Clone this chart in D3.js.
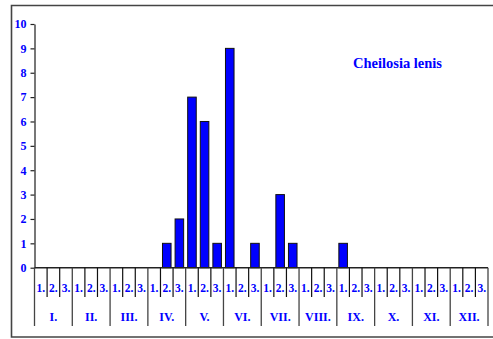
<!DOCTYPE html>
<html><head><meta charset="utf-8">
<script src="https://cdn.jsdelivr.net/npm/d3@7"></script>
<style>body{margin:0;background:#fff}svg{display:block}</style>
</head><body>
<script>
const months = ["I.","II.","III.","IV.","V.","VI.","VII.","VIII.","IX.","X.","XI.","XII."];
const decadeLabels = ["1.","2.","3."];
const counts = [0,0,0, 0,0,0, 0,0,0, 0,1,2, 7,6,1, 9,0,1, 0,3,1, 0,0,0, 1,0,0, 0,0,0, 0,0,0, 0,0,0];
const yTicks = [0,1,2,3,4,5,6,7,8,9,10];
const title = "Cheilosia lenis";

const W = 493, H = 339;
const svg = d3.select("body").append("svg").attr("width", W).attr("height", H);
const blue = "#0000ff";
const font = "'Liberation Serif', 'DejaVu Serif', serif";

// frame
svg.append("path").attr("d", `M${W+2},5.5 H11.5 V337 H${W+2}`)
  .attr("fill","none").attr("stroke","#444").attr("stroke-width",1.6);

const x0 = 34.5, x1 = 488, y0 = 267.7, yTop = 24;
const idx = d3.range(counts.length);
const x = d3.scaleBand().domain(idx).range([x0, x1]).paddingInner(0.32).paddingOuter(0.16);
const y = d3.scaleLinear().domain([0, 10]).range([y0, yTop]);

// y axis
const yAxis = d3.axisLeft(y).tickValues(yTicks).tickSize(4).tickSizeOuter(0).tickPadding(4);
const gy = svg.append("g").attr("transform", `translate(${x0},0)`).call(yAxis);
gy.select(".domain").attr("stroke","#555").attr("stroke-width",1.6);
gy.selectAll(".tick line").attr("stroke","#222").attr("stroke-width",1.2);
gy.selectAll(".tick text").attr("fill", blue).attr("font-family", font)
  .attr("font-weight","bold").attr("font-size", 12);

// bars
svg.append("g").selectAll("rect").data(idx.filter(i => counts[i] > 0)).join("rect")
  .attr("x", i => x(i)).attr("width", x.bandwidth())
  .attr("y", i => y(counts[i])).attr("height", i => y0 - y(counts[i]))
  .attr("fill", blue).attr("stroke", "#111").attr("stroke-width", 1);

// x axis base line
svg.append("line").attr("x1", x0).attr("x2", x1).attr("y1", y0).attr("y2", y0)
  .attr("stroke","#222").attr("stroke-width",1.4);

// decade ticks & labels
const xs = d3.scaleLinear().domain([0, counts.length]).range([x0, x1]);
const dec = svg.append("g");
idx.forEach(i => {
  if (i % 3 !== 0) {
    dec.append("line").attr("x1", xs(i)).attr("x2", xs(i)).attr("y1", y0).attr("y2", 297)
      .attr("stroke","#111").attr("stroke-width",1.2);
  }
  dec.append("text").attr("x", xs(i + 0.5)).attr("y", 292).attr("text-anchor","middle")
    .attr("fill", blue).attr("font-family", font).attr("font-weight","bold").attr("font-size", 11.5)
    .text(decadeLabels[i % 3]);
});
// month lines & labels
d3.range(months.length + 1).forEach(m => {
  dec.append("line").attr("x1", xs(m*3)).attr("x2", xs(m*3)).attr("y1", y0).attr("y2", 326)
    .attr("stroke","#444").attr("stroke-width",1.3);
});
months.forEach((mn, m) => {
  dec.append("text").attr("x", xs(m*3 + 1.5)).attr("y", 321).attr("text-anchor","middle")
    .attr("fill", blue).attr("font-family", font).attr("font-weight","bold").attr("font-size", 12)
    .text(mn);
});

// title
svg.append("text").attr("x", 397.5).attr("y", 68).attr("text-anchor","middle")
  .attr("fill", blue).attr("font-family", font).attr("font-weight","bold").attr("font-size", 14.5)
  .text(title);
</script>
</body></html>
